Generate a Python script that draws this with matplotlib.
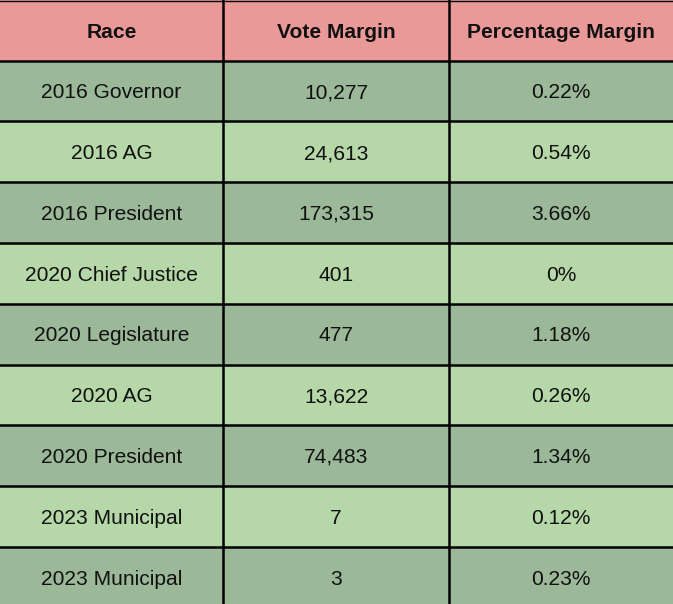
import matplotlib
matplotlib.use("Agg")
import matplotlib.pyplot as plt
from matplotlib.patches import Rectangle

# table content
headers = ["Race", "Vote Margin", "Percentage Margin"]
races = ["2016 Governor", "2016 AG", "2016 President", "2020 Chief Justice",
         "2020 Legislature", "2020 AG", "2020 President", "2023 Municipal",
         "2023 Municipal"]
vote_margins = [10277, 24613, 173315, 401, 477, 13622, 74483, 7, 3]
pct_margins = ["0.22%", "0.54%", "3.66%", "0%", "1.18%", "0.26%", "1.34%",
               "0.12%", "0.23%"]

# layout in pixels
W, H = 673, 604
col_edges = [0, 223, 449, 673]
header_h = 60.5
row_h = 60.8
base_off = 7.3  # baseline below cell centre

header_color = "#ea9999"
row_colors = ["#9bb899", "#b6d7a8"]
font = "Liberation Sans"
fsize = 15.1

fig = plt.figure(figsize=(W / 100, H / 100), dpi=100)
ax = fig.add_axes([0, 0, 1, 1])
ax.set_xlim(0, W)
ax.set_ylim(H, 0)
ax.axis("off")

# header
for c, label in enumerate(headers):
    x0, x1 = col_edges[c], col_edges[c + 1]
    ax.add_patch(Rectangle((x0, 0), x1 - x0, header_h, facecolor=header_color,
                           edgecolor="none"))
    ax.text((x0 + x1) / 2, header_h / 2 + base_off, label, ha="center",
            va="baseline", fontsize=fsize, fontweight="bold",
            family=font, color="#111111")

# body rows
for r in range(len(races)):
    y0 = header_h + r * row_h
    cells = [races[r], f"{vote_margins[r]:,}", pct_margins[r]]
    for c, txt in enumerate(cells):
        x0, x1 = col_edges[c], col_edges[c + 1]
        ax.add_patch(Rectangle((x0, y0), x1 - x0, row_h,
                               facecolor=row_colors[r % 2], edgecolor="none"))
        ax.text((x0 + x1) / 2, y0 + row_h / 2 + base_off, txt, ha="center",
                va="baseline", fontsize=fsize, family=font,
                color="#111111")

# grid lines
ax.axhline(0.5, color="black", lw=1.0)
for r in range(len(races)):
    ax.axhline(header_h + r * row_h, color="black", lw=1.8)
for x in col_edges[1:-1]:
    ax.axvline(x, color="black", lw=1.8)

fig.savefig("out.png", dpi=100)
